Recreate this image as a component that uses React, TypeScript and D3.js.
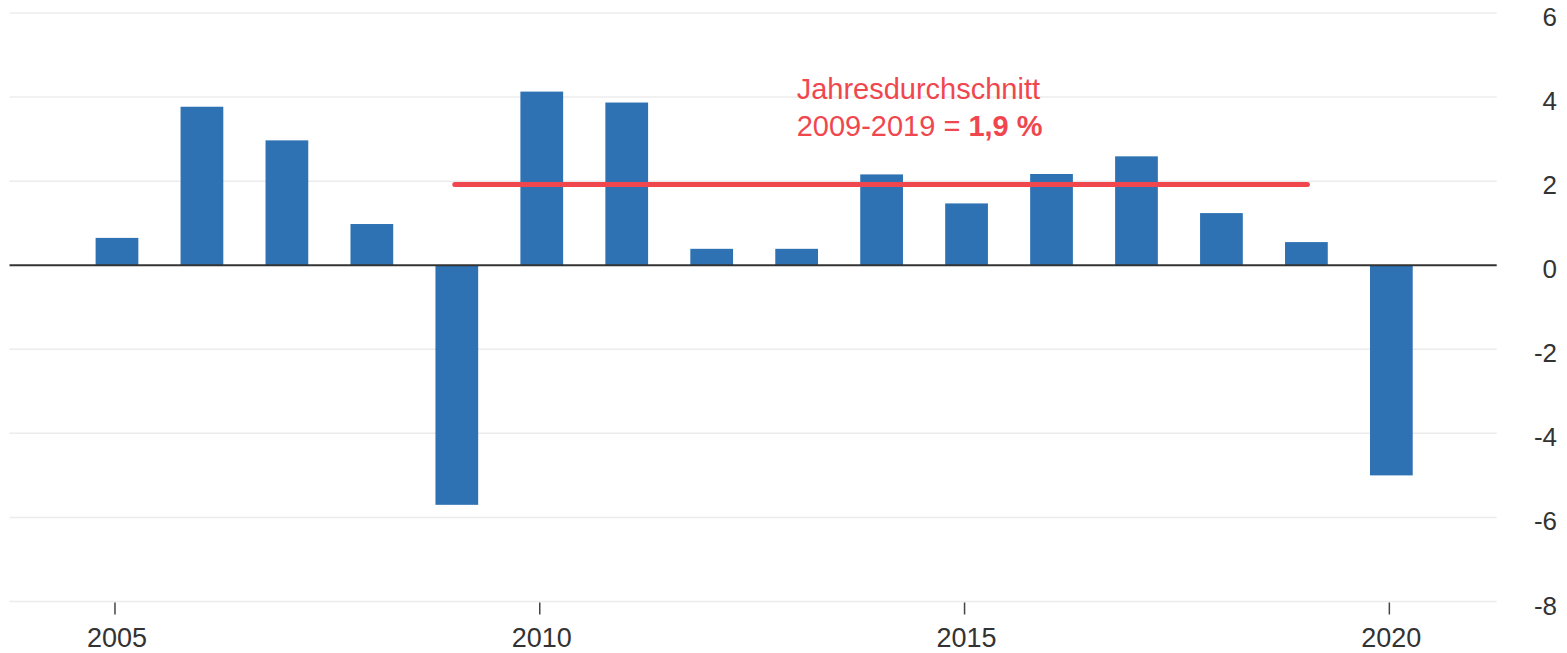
import React from "react";
import * as d3 from "d3";

const years = [2005, 2006, 2007, 2008, 2009, 2010, 2011, 2012, 2013, 2014, 2015, 2016, 2017, 2018, 2019, 2020];
const values = [0.65, 3.77, 2.97, 0.98, -5.7, 4.13, 3.87, 0.39, 0.39, 2.16, 1.47, 2.17, 2.59, 1.24, 0.55, -5.0];
const yTicks = [6, 4, 2, 0, -2, -4, -6, -8];
const xTicks = [2005, 2010, 2015, 2020];
const avgStart = 2009;
const avgEnd = 2019;
const avgValue = 1.92;
const annoLine1 = "Jahresdurchschnitt";
const annoLine2a = "2009-2019 = ";
const annoLine2b = "1,9 %";
const annoYear = 2013;
const annoValue = 4;

const W = 1567;
const H = 653;

export default function App() {
  const x = d3.scaleLinear().domain([2003.735, 2021.24]).range([9.5, 1496.7]);
  const y = d3.scaleLinear().domain([-8, 6]).range([601.5, 13]);
  const step = x(2006) - x(2005);
  const bw = step * 0.503;
  const font = "'Liberation Sans', Arial, Helvetica, sans-serif";
  const red = "#f0474f";

  return (
    <svg
      width={W}
      height={H}
      style={{ position: "absolute", left: 0, top: 0, background: "#fff" }}
      fontFamily={font}
    >
      {yTicks.map((t) => (
        <g key={"g" + t}>
          {t !== 0 && (
            <line x1={x.range()[0]} x2={x.range()[1]} y1={y(t)} y2={y(t)} stroke="#ececec" strokeWidth={1.5} />
          )}
          <text x={1557} y={y(t) + 13} textAnchor="end" fontSize={26} fill="#333">
            {t}
          </text>
        </g>
      ))}
      {years.map((yr, i) => (
        <rect
          key={yr}
          x={x(yr) - bw / 2}
          width={bw}
          y={y(Math.max(0, values[i]))}
          height={Math.abs(y(values[i]) - y(0))}
          fill="#2e72b4"
        />
      ))}
      <line x1={x.range()[0]} x2={x.range()[1]} y1={y(0)} y2={y(0)} stroke="#333" strokeWidth={2} />
      <line
        x1={x(avgStart) - 2}
        x2={x(avgEnd) + 1}
        y1={y(avgValue)}
        y2={y(avgValue)}
        stroke={red}
        strokeWidth={5}
        strokeLinecap="round"
      />
      {xTicks.map((t) => (
        <g key={"x" + t}>
          <line x1={x(t) - 2} x2={x(t) - 2} y1={y(-8) + 1} y2={y(-8) + 13} stroke="#444" strokeWidth={1.5} />
          <text x={x(t)} y={647} textAnchor="middle" fontSize={27} fill="#333">
            {t}
          </text>
        </g>
      ))}
      <text x={x(annoYear)} y={y(annoValue) + 1.5} fontSize={29} fill={red}>
        {annoLine1}
      </text>
      <text x={x(annoYear)} y={y(annoValue) + 38.5} fontSize={29} fill={red}>
        {annoLine2a}
        <tspan fontWeight="bold">{annoLine2b}</tspan>
      </text>
    </svg>
  );
}
